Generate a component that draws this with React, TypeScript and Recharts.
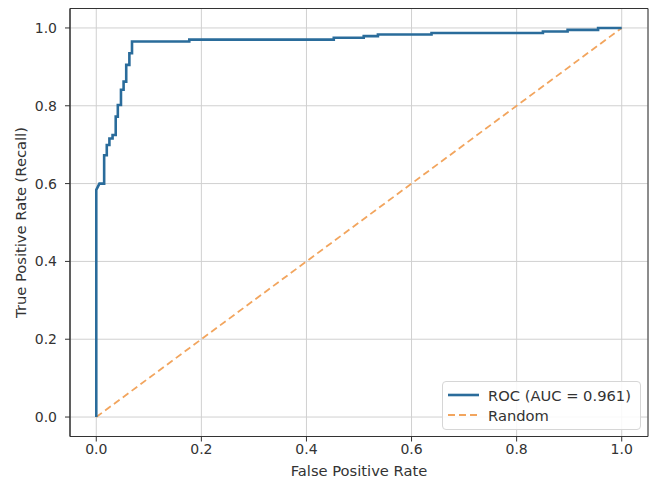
import React from 'react';
import { LineChart, Line, XAxis, YAxis, CartesianGrid, ReferenceArea } from 'recharts';

// ROC curve corner points
const rocFpr = [
  0, 0, 0.006, 0.015, 0.015, 0.02, 0.02, 0.025, 0.025, 0.031, 0.031, 0.037, 0.037,
  0.041, 0.041, 0.047, 0.047, 0.052, 0.052, 0.057, 0.057, 0.063, 0.063, 0.068, 0.068,
  0.177, 0.177, 0.452, 0.452, 0.509, 0.509, 0.536, 0.536, 0.638, 0.638, 0.85, 0.85,
  0.897, 0.897, 0.955, 0.955, 1.0,
];
const rocTpr = [
  0, 0.584, 0.6, 0.6, 0.673, 0.673, 0.699, 0.699, 0.716, 0.716, 0.725, 0.725, 0.772,
  0.772, 0.802, 0.802, 0.841, 0.841, 0.862, 0.862, 0.905, 0.905, 0.935, 0.935, 0.965,
  0.965, 0.97, 0.97, 0.975, 0.975, 0.979, 0.979, 0.983, 0.983, 0.987, 0.987, 0.991,
  0.991, 0.995, 0.995, 1.0, 1.0,
];
const randomFpr = [0, 1];
const randomTpr = [0, 1];
const axisTicks = [0, 0.2, 0.4, 0.6, 0.8, 1.0];

const rocName = 'ROC (AUC = 0.961)';
const randomName = 'Random';

const rocData = rocFpr.map((x, i) => ({ fpr: x, tpr: rocTpr[i] }));
const randomData = randomFpr.map((x, i) => ({ fpr: x, tpr: randomTpr[i] }));

const BLUE = '#2a6c9b';
const ORANGE = '#f2a55e';
const TEXT = '#333';
const FONT = '"DejaVu Sans", sans-serif';

function LegendBox() {
  const rows = [
    { name: rocName, color: BLUE, dash: undefined, w: 2.6 },
    { name: randomName, color: ORANGE, dash: '7 4', w: 1.8 },
  ];
  return (
    <div
      style={{
        position: 'absolute',
        left: 442,
        top: 381,
        width: 197,
        height: 47,
        border: '1px solid #d6d6d6',
        borderRadius: 4,
        background: 'rgba(255,255,255,0.85)',
        fontFamily: FONT,
        fontSize: 14.7,
        color: TEXT,
      }}
    >
      {rows.map((r, i) => (
        <div
          key={r.name}
          style={{ position: 'absolute', left: 4, top: 3 + i * 20, height: 20, display: 'flex', alignItems: 'center' }}
        >
          <svg width={32} height={20}>
            <line x1={1} y1={10} x2={32} y2={10} stroke={r.color} strokeWidth={r.w} strokeDasharray={r.dash} />
          </svg>
          <span style={{ marginLeft: 9, whiteSpace: 'nowrap' }}>{r.name}</span>
        </div>
      ))}
    </div>
  );
}

export default function App() {
  const fmt = (v: number) => v.toFixed(1);
  return (
    <div style={{ position: 'absolute', left: 0, top: 0, width: 650, height: 484, background: '#fff', fontFamily: FONT }}>
      <LineChart width={650} height={484} margin={{ top: 8.5, right: 2, bottom: 0, left: 0 }}>
        <CartesianGrid stroke="#d0d0d0" />
        <XAxis
          type="number"
          dataKey="fpr"
          domain={[-0.05, 1.05]}
          ticks={axisTicks}
          tickFormatter={fmt}
          allowDataOverflow
          height={47.5}
          tickSize={5}
          tickMargin={3}
          stroke={TEXT}
          tick={{ fill: TEXT, fontSize: 14, fontFamily: FONT }}
          label={{ value: 'False Positive Rate', position: 'insideBottom', offset: 8, fill: TEXT, fontSize: 14.7, fontFamily: FONT }}
        />
        <YAxis
          type="number"
          domain={[-0.05, 1.05]}
          ticks={axisTicks}
          tickFormatter={fmt}
          allowDataOverflow
          width={70}
          tickSize={5}
          tickMargin={8}
          stroke={TEXT}
          tick={{ fill: TEXT, fontSize: 14, fontFamily: FONT }}
          label={{
            value: 'True Positive Rate (Recall)',
            angle: -90,
            position: 'insideLeft',
            offset: 21,
            fill: TEXT,
            fontSize: 14.7,
            fontFamily: FONT,
            style: { textAnchor: 'middle' },
          }}
        />
        <Line
          data={randomData}
          dataKey="tpr"
          name={randomName}
          type="linear"
          stroke={ORANGE}
          strokeWidth={1.8}
          strokeDasharray="7 4"
          dot={false}
          isAnimationActive={false}
        />
        <Line
          data={rocData}
          dataKey="tpr"
          name={rocName}
          type="linear"
          stroke={BLUE}
          strokeWidth={2.6}
          dot={false}
          isAnimationActive={false}
        />
        <ReferenceArea x1={-0.05} x2={1.05} y1={-0.05} y2={1.05} fill="none" stroke={TEXT} strokeWidth={1} />
      </LineChart>
      <LegendBox />
    </div>
  );
}
